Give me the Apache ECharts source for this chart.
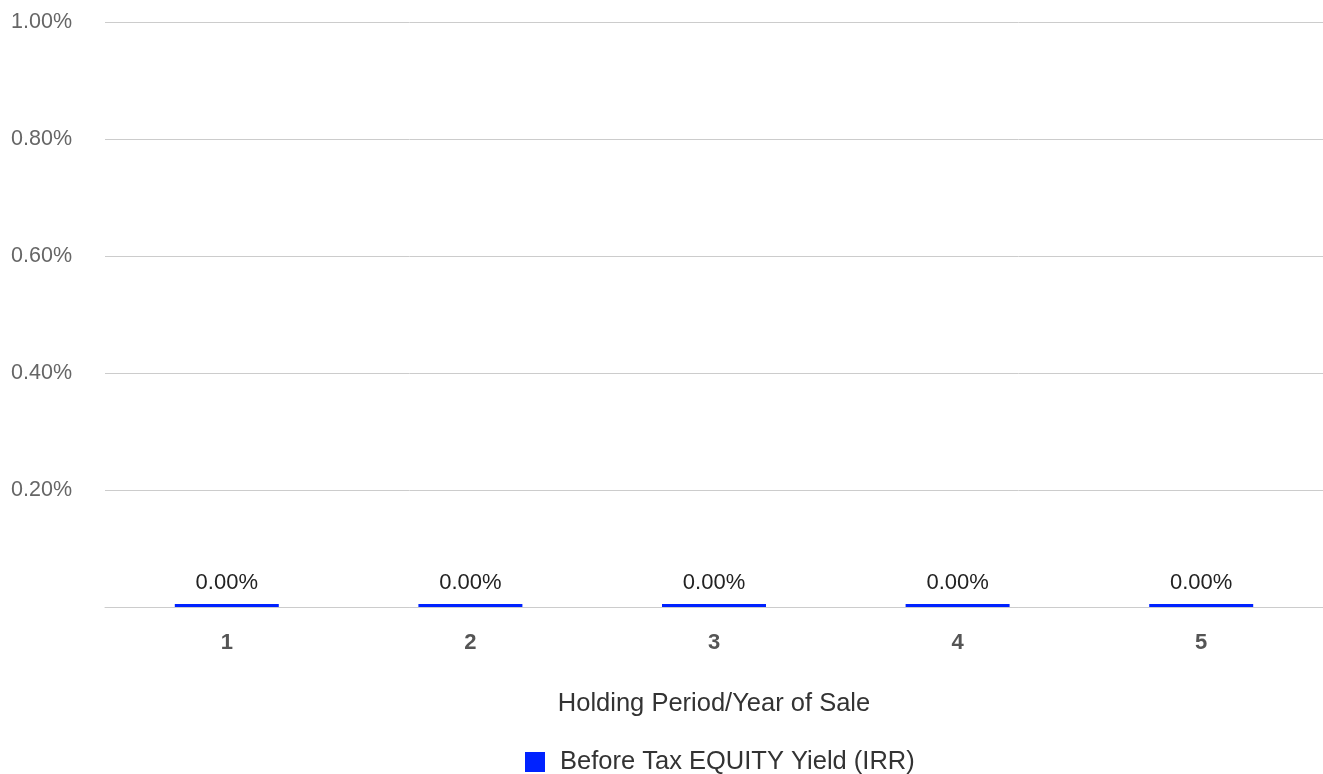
<!DOCTYPE html>
<html lang="en">
<head>
    <meta charset="UTF-8">
    <title>Before Tax Equity Yield</title>
    <script src="https://cdn.jsdelivr.net/npm/echarts@6/dist/echarts.min.js"></script>
    <style>
        html, body {
            margin: 0;
            padding: 0;
            background: #fff;
        }
        #main {
            width: 1323px;
            height: 774px;
        }
    </style>
</head>
<body>
<div id="main"></div>
<script>
    // 数据
    var years = ['1', '2', '3', '4', '5'];
    var irrValues = [0, 0, 0, 0, 0];
    var seriesName = 'Before Tax EQUITY Yield (IRR)';
    var axisTitle = 'Holding Period/Year of Sale';

    function pct(v) {
        return (v * 100).toFixed(2) + '%';
    }

    var chart = echarts.init(document.getElementById('main'));

    chart.setOption({
        animation: false,
        textStyle: { fontFamily: 'Liberation Sans, Arial, sans-serif' },
        grid: { left: 105, right: 0, top: 22, bottom: 167 },
        legend: {
            bottom: -6,
            left: 520,
            itemWidth: 20,
            itemHeight: 20,
            icon: 'rect',
            textStyle: { fontSize: 25.5, color: '#333', padding: [0, 0, 0, 10] },
            data: [seriesName]
        },
        xAxis: {
            type: 'category',
            data: years,
            name: axisTitle,
            nameLocation: 'middle',
            nameGap: 84,
            nameTextStyle: { fontSize: 25.5, color: '#333' },
            axisLine: { lineStyle: { color: '#ccc' } },
            axisTick: { show: false },
            axisLabel: { fontSize: 22, fontWeight: 'bold', color: '#555', margin: 25 }
        },
        yAxis: {
            type: 'value',
            min: 0,
            max: 0.01,
            interval: 0.002,
            axisLine: { show: false },
            axisTick: { show: false },
            splitLine: { lineStyle: { color: '#ccc' } },
            axisLabel: {
                fontSize: 21.5,
                color: '#666',
                margin: 33,
                showMinLabel: false,
                formatter: pct
            }
        },
        series: [{
            name: seriesName,
            type: 'bar',
            data: irrValues,
            barWidth: 104,
            barMinHeight: 3,
            itemStyle: { color: '#0022ff' },
            label: {
                show: true,
                position: 'top',
                distance: 10,
                fontSize: 22,
                color: '#222',
                formatter: function (p) { return pct(p.value); }
            }
        }]
    });
</script>
</body>
</html>
